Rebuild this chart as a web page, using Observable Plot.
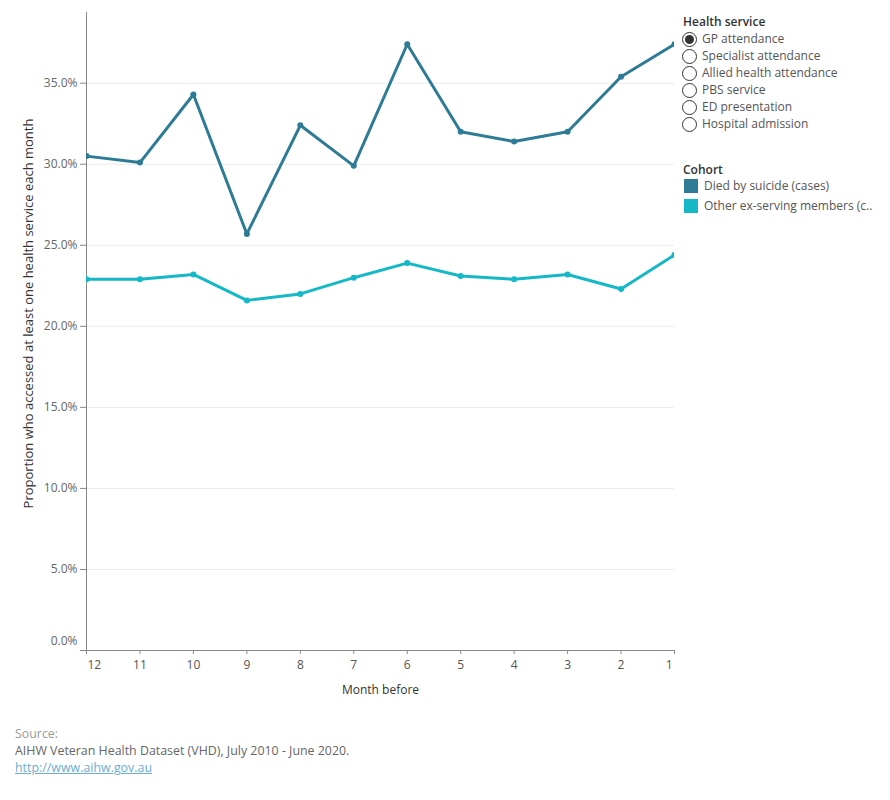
<!DOCTYPE html>
<html><head><meta charset="utf-8">
<script src="https://cdn.jsdelivr.net/npm/d3@7"></script>
<script src="https://cdn.jsdelivr.net/npm/@observablehq/plot@0.6"></script>
<style>
body{margin:0;background:#fff;font-family:"Open Sans",Lato,sans-serif;}
#wrap{position:relative;width:890px;height:800px;overflow:hidden;}
#chart{position:absolute;left:0;top:0;}
.lg{position:absolute;font-size:12px;color:#555;white-space:nowrap;line-height:17px;}
.lgt{position:absolute;font-size:12px;color:#333;font-weight:600;white-space:nowrap;}
.radio{position:absolute;width:15px;height:15px;border:1px solid #333;border-radius:50%;box-sizing:border-box;background:#fff;}
.radio.on::after{content:"";position:absolute;left:2px;top:2px;width:9px;height:9px;border-radius:50%;background:#333;}
.sw{position:absolute;width:14px;height:14px;}
.ft{position:absolute;left:15px;font-size:12.4px;white-space:nowrap;}
</style></head><body>
<div id="wrap">
  <div id="chart"></div>
  <div id="legend"></div>
  <div id="footer"></div>
</div>
<script>
const months = [12, 11, 10, 9, 8, 7, 6, 5, 4, 3, 2, 1];
const cases = [30.5, 30.1, 34.3, 25.7, 32.4, 29.9, 37.4, 32.0, 31.4, 32.0, 35.4, 37.4];
const others = [22.9, 22.9, 23.2, 21.6, 22.0, 23.0, 23.9, 23.1, 22.9, 23.2, 22.3, 24.4];
const cohorts = ["Died by suicide (cases)", "Other ex-serving members (comparison)"];
const cohortLabels = ["Died by suicide (cases)", "Other ex-serving members (c.."];
const cohortColors = ["#2e7b96", "#14b8c6"];
const services = ["GP attendance", "Specialist attendance", "Allied health attendance", "PBS service", "ED presentation", "Hospital admission"];
const selectedService = "GP attendance";
const yTicks = [0, 5, 10, 15, 20, 25, 30, 35];
const yMax = 39.36;
const xTitle = "Month before";
const yTitle = "Proportion who accessed at least one health service each month";

const data = months.flatMap((m, i) => [
  {month: m, value: cases[i], cohort: cohorts[0]},
  {month: m, value: others[i], cohort: cohorts[1]}
]);
const fmt = d => d.toFixed(1) + "%";
const first = months[0], last = months[months.length - 1];
const middle = months.filter(m => m !== first && m !== last);

const plot = Plot.plot({
  width: 680, height: 700,
  marginLeft: 86, marginRight: 6, marginTop: 12, marginBottom: 50,
  x: {type: "linear", domain: [first, last]},
  y: {domain: [0, yMax]},
  color: {domain: cohorts, range: cohortColors},
  style: {fontFamily: "'Open Sans', Lato, sans-serif", fontSize: "12px", color: "#666", background: "transparent"},
  marks: [
    Plot.gridY(yTicks.filter(d => d > 0), {stroke: "#ebebeb", strokeOpacity: 1}),
    Plot.axisY({ticks: yTicks, tickFormat: d => d === 0 ? "" : fmt(d), tickSize: 6, tickPadding: 3, label: null, stroke: "#888", fill: "#666"}),
    Plot.text([0], {x: first, y: d => d, text: fmt, textAnchor: "end", dx: -9, dy: -9, fill: "#666"}),
    Plot.axisX({ticks: months, tickFormat: () => "", tickSize: 4, label: null, stroke: "#888"}),
    Plot.text(middle, {x: d => d, y: 0, text: d => String(d), dy: 15, fill: "#555"}),
    Plot.text([first], {x: d => d, y: 0, text: d => String(d), dy: 15, dx: 1, textAnchor: "start", fill: "#555"}),
    Plot.text([last], {x: d => d, y: 0, text: d => String(d), dy: 15, dx: -2, textAnchor: "end", fill: "#555"}),
    Plot.ruleX([first], {stroke: "#888"}),
    Plot.ruleY([0], {stroke: "#888"}),
    Plot.line(data, {x: "month", y: "value", z: "cohort", stroke: "cohort", strokeWidth: 3, clip: true}),
    Plot.dot(data, {x: "month", y: "value", fill: "cohort", r: 3, clip: true}),
    Plot.text([xTitle], {frameAnchor: "bottom", text: d => d, dy: 43, fill: "#333", fontSize: 12}),
    Plot.text([yTitle], {frameAnchor: "left", textAnchor: "middle", text: d => d, rotate: -90, dx: -58, dy: -18, fill: "#333", fontSize: 13})
  ]
});
document.getElementById("chart").appendChild(plot);

// Legend (HTML)
const lg = document.getElementById("legend");
let html = `<div class="lgt" style="left:683px;top:13px">Health service</div>`;
services.forEach((s, i) => {
  const cy = 39 + i * 17;
  html += `<div class="radio${s === selectedService ? " on" : ""}" style="left:682px;top:${cy - 7}px"></div>`;
  html += `<div class="lg" style="left:702px;top:${cy - 9}px">${s}</div>`;
});
html += `<div class="lgt" style="left:683px;top:161px">Cohort</div>`;
cohortLabels.forEach((c, i) => {
  const cy = 186 + i * 20;
  html += `<div class="sw" style="left:684px;top:${cy - 7}px;background:${cohortColors[i]}"></div>`;
  html += `<div class="lg" style="left:704px;top:${cy - 9}px">${c}</div>`;
});
lg.innerHTML = html;

document.getElementById("footer").innerHTML =
  `<div class="ft" style="top:725px;color:#999">Source:</div>` +
  `<div class="ft" style="top:742px;color:#666">AIHW Veteran Health Dataset (VHD), July 2010 - June 2020.</div>` +
  `<div class="ft" style="top:759px;color:#6aaed3;text-decoration:underline">http://www.aihw.gov.au</div>`;
</script>
</body></html>
